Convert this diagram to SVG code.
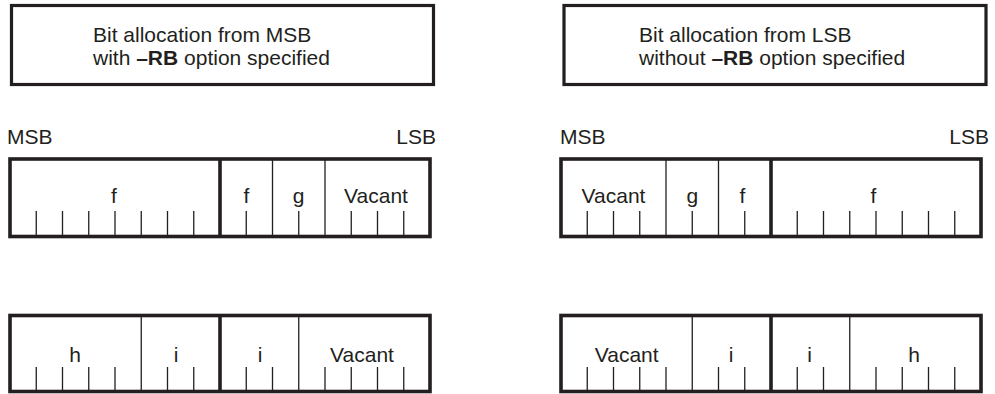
<svg xmlns="http://www.w3.org/2000/svg" width="995" height="394" viewBox="0 0 995 394">
<style>
  text { font-family: "Liberation Sans", Arial, sans-serif; font-size: 21px; fill: #231f20; }
  .c { text-anchor: middle; }
  .b { font-weight: bold; }
  .title { fill: #ffffff; stroke: #231f20; stroke-width: 3.2; }
  .reg { fill: #ffffff; stroke: #231f20; stroke-width: 3.6; }
  .thick { stroke: #231f20; stroke-width: 3.6; fill: none; }
  .thin { stroke: #231f20; stroke-width: 1.3; fill: none; }
</style>
<rect width="995" height="394" fill="#ffffff"/>

<g id="title-msb">
  <rect class="title" x="11.5" y="5.5" width="422" height="79"/>
  <text x="93" y="42">Bit allocation from MSB</text>
  <text x="93" y="65">with <tspan class="b">–RB</tspan> option specified</text>
</g>

<g id="title-lsb">
  <rect class="title" x="564" y="5.5" width="422" height="79"/>
  <text x="639" y="42">Bit allocation from LSB</text>
  <text x="639" y="65">without <tspan class="b">–RB</tspan> option specified</text>
</g>

<g id="bit-labels">
  <text x="7" y="144">MSB</text>
  <text x="436" y="144" text-anchor="end">LSB</text>
  <text x="560" y="144">MSB</text>
  <text x="989" y="144" text-anchor="end">LSB</text>
</g>

<g id="reg-msb-1">
  <rect class="reg" x="10" y="159" width="420" height="77.5"/>
  <path class="thin" d="M36.25 211V236.5M62.5 211V236.5M88.75 211V236.5M115 211V236.5M141.25 211V236.5M167.5 211V236.5M193.75 211V236.5M246.25 211V236.5M298.75 211V236.5M351.25 211V236.5M377.5 211V236.5M403.75 211V236.5"/>
  <path class="thin" d="M272.5 159V236.5M325 159V236.5"/>
  <path class="thick" d="M220 159V236.5"/>
  <text class="c" x="114" y="203">f</text>
  <text class="c" x="246.5" y="203">f</text>
  <text class="c" x="298.5" y="203">g</text>
  <text class="c" x="376" y="203">Vacant</text>
</g>

<g id="reg-msb-2">
  <rect class="reg" x="10" y="315.5" width="420" height="76"/>
  <path class="thin" d="M36.25 367V391.5M62.5 367V391.5M88.75 367V391.5M115 367V391.5M167.5 367V391.5M193.75 367V391.5M246.25 367V391.5M272.5 367V391.5M325 367V391.5M351.25 367V391.5M377.5 367V391.5M403.75 367V391.5"/>
  <path class="thin" d="M141.25 315.5V391.5M298.75 315.5V391.5"/>
  <path class="thick" d="M220 315.5V391.5"/>
  <text class="c" x="75" y="362">h</text>
  <text class="c" x="176" y="362">i</text>
  <text class="c" x="260" y="362">i</text>
  <text class="c" x="362" y="362">Vacant</text>
</g>

<g id="reg-lsb-1">
  <rect class="reg" x="561" y="159" width="420" height="77.5"/>
  <path class="thin" d="M587.25 211V236.5M613.5 211V236.5M639.75 211V236.5M692.25 211V236.5M744.75 211V236.5M797.25 211V236.5M823.5 211V236.5M849.75 211V236.5M876 211V236.5M902.25 211V236.5M928.5 211V236.5M954.75 211V236.5"/>
  <path class="thin" d="M666 159V236.5M718.5 159V236.5"/>
  <path class="thick" d="M771 159V236.5"/>
  <text class="c" x="613.5" y="203">Vacant</text>
  <text class="c" x="692.3" y="203">g</text>
  <text class="c" x="742.5" y="203">f</text>
  <text class="c" x="873.5" y="203">f</text>
</g>

<g id="reg-lsb-2">
  <rect class="reg" x="561" y="315.5" width="420" height="76"/>
  <path class="thin" d="M587.25 367V391.5M613.5 367V391.5M639.75 367V391.5M666 367V391.5M718.5 367V391.5M744.75 367V391.5M797.25 367V391.5M823.5 367V391.5M876 367V391.5M902.25 367V391.5M928.5 367V391.5M954.75 367V391.5"/>
  <path class="thin" d="M692.25 315.5V391.5M849.75 315.5V391.5"/>
  <path class="thick" d="M771 315.5V391.5"/>
  <text class="c" x="626.7" y="362">Vacant</text>
  <text class="c" x="731" y="362">i</text>
  <text class="c" x="809.7" y="362">i</text>
  <text class="c" x="914" y="362">h</text>
</g>

<g id="connectors"></g>
</svg>
